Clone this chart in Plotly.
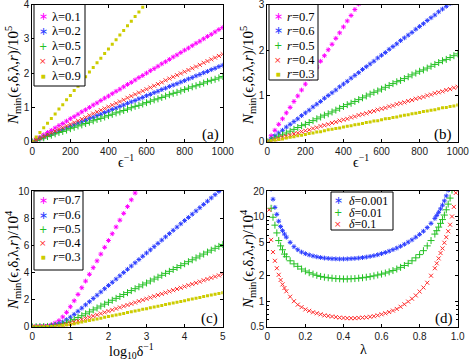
import plotly.graph_objects as go

# ---------------- data ----------------
eps_inv = list(range(0, 1001, 20))          # epsilon^-1, panels (a),(b)
log_delta = [round(0.1 * i, 1) for i in range(51)]   # log10 delta^-1, panel (c)
lam = [0.01, 0.02, 0.03, 0.04, 0.05, 0.06, 0.07, 0.08, 0.09, 0.10,
       0.12, 0.14, 0.16, 0.18, 0.20, 0.22, 0.24, 0.26, 0.28, 0.30,
       0.32, 0.34, 0.36, 0.38, 0.40, 0.42, 0.44, 0.46, 0.48, 0.50,
       0.52, 0.54, 0.56, 0.58, 0.60, 0.62, 0.64, 0.66, 0.68, 0.70,
       0.72, 0.74, 0.76, 0.78, 0.80, 0.82, 0.84, 0.86, 0.88, 0.89,
       0.90, 0.91, 0.92, 0.93, 0.94, 0.95, 0.96, 0.97, 0.98, 0.99]

# panel (a): N_min / 1e5 vs eps^-1 for several lambda
a_lam01 = [0, 0.07, 0.13, 0.20, 0.27, 0.33, 0.40, 0.47, 0.53, 0.60,
           0.67, 0.73, 0.80, 0.87, 0.93, 1.00, 1.07, 1.13, 1.20, 1.27,
           1.33, 1.40, 1.47, 1.53, 1.60, 1.67, 1.73, 1.80, 1.87, 1.93,
           2.00, 2.07, 2.13, 2.20, 2.27, 2.33, 2.40, 2.47, 2.53, 2.60,
           2.67, 2.73, 2.80, 2.87, 2.93, 3.00, 3.07, 3.13, 3.20, 3.27,
           3.33]
a_lam02 = [0, 0.04, 0.09, 0.13, 0.18, 0.22, 0.27, 0.31, 0.36, 0.40,
           0.45, 0.49, 0.54, 0.58, 0.62, 0.67, 0.71, 0.76, 0.80, 0.85,
           0.89, 0.94, 0.98, 1.03, 1.07, 1.12, 1.16, 1.20, 1.25, 1.29,
           1.34, 1.38, 1.43, 1.47, 1.52, 1.56, 1.61, 1.65, 1.69, 1.74,
           1.78, 1.83, 1.87, 1.92, 1.96, 2.01, 2.05, 2.10, 2.14, 2.19,
           2.23]
a_lam05 = [0, 0.04, 0.08, 0.11, 0.15, 0.19, 0.23, 0.27, 0.30, 0.34,
           0.38, 0.42, 0.46, 0.49, 0.53, 0.57, 0.61, 0.65, 0.68, 0.72,
           0.76, 0.80, 0.84, 0.87, 0.91, 0.95, 0.99, 1.03, 1.06, 1.10,
           1.14, 1.18, 1.22, 1.25, 1.29, 1.33, 1.37, 1.41, 1.44, 1.48,
           1.52, 1.56, 1.60, 1.63, 1.67, 1.71, 1.75, 1.79, 1.82, 1.86,
           1.90]
a_lam07 = [0, 0.05, 0.10, 0.15, 0.20, 0.26, 0.31, 0.36, 0.41, 0.46,
           0.51, 0.56, 0.61, 0.66, 0.71, 0.77, 0.82, 0.87, 0.92, 0.97,
           1.02, 1.07, 1.12, 1.17, 1.22, 1.28, 1.33, 1.38, 1.43, 1.48,
           1.53, 1.58, 1.63, 1.68, 1.73, 1.79, 1.84, 1.89, 1.94, 1.99,
           2.04, 2.09, 2.14, 2.19, 2.24, 2.30, 2.35, 2.40, 2.45, 2.50,
           2.55]
a_lam09 = [0, 0.14, 0.27, 0.41, 0.54, 0.68, 0.81, 0.95, 1.08, 1.22,
           1.35, 1.49, 1.62, 1.76, 1.89, 2.03, 2.16, 2.30, 2.43, 2.57,
           2.70, 2.84, 2.97, 3.11, 3.24, 3.38, 3.51, 3.65, 3.78, 3.92,
           4.05]

# panel (b): N_min / 1e5 vs eps^-1 for several r
b_r07 = [0, 0.13, 0.25, 0.38, 0.50, 0.63, 0.75, 0.88, 1.00, 1.13,
         1.26, 1.38, 1.51, 1.63, 1.76, 1.88, 2.01, 2.13, 2.26, 2.38,
         2.51, 2.64, 2.76, 2.89, 3.01]
b_r06 = [0, 0.06, 0.13, 0.19, 0.25, 0.32, 0.38, 0.44, 0.50, 0.57,
         0.63, 0.69, 0.76, 0.82, 0.88, 0.95, 1.01, 1.07, 1.13, 1.20,
         1.26, 1.32, 1.39, 1.45, 1.51, 1.58, 1.64, 1.70, 1.76, 1.83,
         1.89, 1.95, 2.02, 2.08, 2.14, 2.21, 2.27, 2.33, 2.39, 2.46,
         2.52, 2.58, 2.65, 2.71, 2.77, 2.84, 2.90, 2.96, 3.02]
b_r05 = [0, 0.04, 0.08, 0.12, 0.15, 0.19, 0.23, 0.27, 0.31, 0.35,
         0.38, 0.42, 0.46, 0.50, 0.54, 0.58, 0.61, 0.65, 0.69, 0.73,
         0.77, 0.81, 0.84, 0.88, 0.92, 0.96, 1.00, 1.04, 1.08, 1.11,
         1.15, 1.19, 1.23, 1.27, 1.31, 1.34, 1.38, 1.42, 1.46, 1.50,
         1.54, 1.57, 1.61, 1.65, 1.69, 1.73, 1.77, 1.80, 1.84, 1.88,
         1.92]
b_r04 = [0, 0.02, 0.05, 0.07, 0.10, 0.12, 0.14, 0.17, 0.19, 0.22,
         0.24, 0.26, 0.29, 0.31, 0.34, 0.36, 0.38, 0.41, 0.43, 0.46,
         0.48, 0.50, 0.53, 0.55, 0.58, 0.60, 0.62, 0.65, 0.67, 0.70,
         0.72, 0.74, 0.77, 0.79, 0.82, 0.84, 0.86, 0.89, 0.91, 0.94,
         0.96, 0.98, 1.01, 1.03, 1.06, 1.08, 1.10, 1.13, 1.15, 1.18,
         1.20]
b_r03 = [0, 0.02, 0.03, 0.05, 0.06, 0.08, 0.10, 0.11, 0.13, 0.14,
         0.16, 0.18, 0.19, 0.21, 0.22, 0.24, 0.26, 0.27, 0.29, 0.30,
         0.32, 0.34, 0.35, 0.37, 0.38, 0.40, 0.42, 0.43, 0.45, 0.46,
         0.48, 0.50, 0.51, 0.53, 0.54, 0.56, 0.58, 0.59, 0.61, 0.62,
         0.64, 0.66, 0.67, 0.69, 0.70, 0.72, 0.74, 0.75, 0.77, 0.78,
         0.80]

# panel (c): N_min / 1e4 vs log10 delta^-1 for several r
c_r07 = [0.01, 0.01, 0.02, 0.04, 0.08, 0.15, 0.27, 0.45, 0.72, 1.06,
         1.47, 1.91, 2.38, 2.87, 3.36, 3.86, 4.35, 4.85, 5.35, 5.85,
         6.35, 6.85, 7.35, 7.85, 8.35, 8.85, 9.35, 9.85, 10.35]
c_r06 = [0.00, 0.00, 0.01, 0.02, 0.04, 0.07, 0.13, 0.22, 0.34, 0.51,
         0.70, 0.91, 1.14, 1.37, 1.61, 1.84, 2.08, 2.32, 2.56, 2.80,
         3.04, 3.27, 3.51, 3.75, 3.99, 4.23, 4.47, 4.71, 4.95, 5.19,
         5.43, 5.66, 5.90, 6.14, 6.38, 6.62, 6.86, 7.10, 7.34, 7.58,
         7.82, 8.05, 8.29, 8.53, 8.77, 9.01, 9.25, 9.49, 9.73, 9.97,
         10.21]
c_r05 = [0.00, 0.00, 0.01, 0.01, 0.02, 0.04, 0.08, 0.13, 0.20, 0.30,
         0.42, 0.54, 0.68, 0.81, 0.95, 1.09, 1.24, 1.38, 1.52, 1.66,
         1.80, 1.95, 2.09, 2.23, 2.37, 2.51, 2.66, 2.80, 2.94, 3.08,
         3.22, 3.37, 3.51, 3.65, 3.79, 3.93, 4.08, 4.22, 4.36, 4.50,
         4.64, 4.79, 4.93, 5.07, 5.21, 5.35, 5.50, 5.64, 5.78, 5.92,
         6.06]
c_r04 = [0.00, 0.00, 0.00, 0.01, 0.01, 0.03, 0.05, 0.08, 0.13, 0.19,
         0.27, 0.35, 0.43, 0.52, 0.61, 0.70, 0.79, 0.88, 0.97, 1.06,
         1.15, 1.24, 1.33, 1.42, 1.51, 1.60, 1.69, 1.78, 1.88, 1.97,
         2.06, 2.15, 2.24, 2.33, 2.42, 2.51, 2.60, 2.69, 2.78, 2.87,
         2.96, 3.05, 3.14, 3.23, 3.32, 3.42, 3.51, 3.60, 3.69, 3.78,
         3.87]
c_r03 = [0.00, 0.00, 0.00, 0.00, 0.01, 0.02, 0.03, 0.05, 0.08, 0.12,
         0.17, 0.22, 0.28, 0.34, 0.40, 0.45, 0.51, 0.57, 0.63, 0.69,
         0.75, 0.81, 0.86, 0.92, 0.98, 1.04, 1.10, 1.16, 1.22, 1.28,
         1.33, 1.39, 1.45, 1.51, 1.57, 1.63, 1.69, 1.75, 1.81, 1.86,
         1.92, 1.98, 2.04, 2.10, 2.16, 2.22, 2.28, 2.33, 2.39, 2.45,
         2.51]

# panel (d): N_min / 1e4 vs lambda for several delta (log axis)
d_d0001 = [40, 21, 16, 12.8, 10.6, 8.8, 7.6, 6.8, 6.2, 5.7,
           4.95, 4.4, 4.05, 3.8, 3.64, 3.52, 3.42, 3.34, 3.28, 3.23,
           3.2, 3.17, 3.16, 3.15, 3.15, 3.16, 3.18, 3.2, 3.23, 3.27,
           3.32, 3.38, 3.45, 3.54, 3.64, 3.76, 3.9, 4.06, 4.24, 4.45,
           4.7, 4.98, 5.3, 5.7, 6.15, 6.7, 7.4, 8.3, 9.5, 10.3,
           11.2, 12.3, 13.6, 15.3, 17.5, 20.5, 25, 32, 48, 95]
d_d001 = [22, 12.5, 9.8, 7.9, 6.4, 5.2, 4.5, 4.05, 3.6, 3.35,
          3.0, 2.76, 2.58, 2.4, 2.27, 2.17, 2.09, 2.02, 1.96, 1.92,
          1.89, 1.87, 1.85, 1.84, 1.83, 1.83, 1.84, 1.85, 1.87, 1.89,
          1.92, 1.95, 1.99, 2.04, 2.09, 2.15, 2.22, 2.3, 2.4, 2.51,
          2.64, 2.8, 3.0, 3.25, 3.55, 3.95, 4.5, 5.2, 6.2, 6.8,
          7.5, 8.3, 9.2, 10.4, 12.0, 14.0, 16.5, 20.5, 28, 50]
d_d01 = [12, 5.3, 3.8, 3.0, 2.45, 2.05, 1.78, 1.58, 1.43, 1.31,
         1.13, 1.0, 0.91, 0.85, 0.8, 0.77, 0.74, 0.72, 0.7, 0.68,
         0.67, 0.66, 0.65, 0.64, 0.635, 0.63, 0.63, 0.63, 0.635, 0.64,
         0.645, 0.655, 0.665, 0.68, 0.7, 0.72, 0.745, 0.775, 0.81, 0.86,
         0.92, 0.99, 1.07, 1.17, 1.3, 1.45, 1.65, 2.0, 2.45, 2.8,
         3.2, 3.7, 4.2, 4.9, 5.7, 6.7, 8.0, 10, 13, 19]

# ---------------- styling ----------------
W, H = 471, 361
SERIF = "Liberation Serif"
SANS = "Liberation Sans"
MAGENTA, BLUE, GREEN, RED, YELLOW = "#ff00ff", "#2a3cff", "#22c022", "#ff2a2a", "#cccc00"


def fx(p):
    return p / W


def fy(p):
    return 1 - p / H


MARK = {
    "m": dict(symbol="asterisk-open", size=4, color=MAGENTA, line=dict(color=MAGENTA, width=1)),
    "b": dict(symbol="asterisk-open", size=4, color=BLUE, line=dict(color=BLUE, width=1)),
    "g": dict(symbol="cross-thin-open", size=5, color=GREEN, line=dict(color=GREEN, width=1)),
    "r": dict(symbol="x-thin-open", size=4, color=RED, line=dict(color=RED, width=1)),
    "y": dict(symbol="square", size=3, color=YELLOW, line=dict(width=0)),
}
GLYPH = {"m": ("∗", MAGENTA, 11), "b": ("∗", BLUE, 11), "g": ("+", GREEN, 10),
         "r": ("×", RED, 9), "y": ("■", YELLOW, 5)}

fig = go.Figure()


def add(x, y, key, ax):
    fig.add_trace(go.Scatter(x=x[:len(y)], y=y, mode="markers", marker=MARK[key],
                             xaxis="x" + ax, yaxis="y" + ax, showlegend=False,
                             hoverinfo="skip"))


for y, k in [(a_lam01, "m"), (a_lam02, "b"), (a_lam05, "g"), (a_lam07, "r"), (a_lam09, "y")]:
    add(eps_inv, y, k, "")
for y, k in [(b_r07, "m"), (b_r06, "b"), (b_r05, "g"), (b_r04, "r"), (b_r03, "y")]:
    add(eps_inv, y, k, "2")
for y, k in [(c_r07, "m"), (c_r06, "b"), (c_r05, "g"), (c_r04, "r"), (c_r03, "y")]:
    add(log_delta, y, k, "3")
for y, k in [(d_d0001, "b"), (d_d001, "g"), (d_d01, "r")]:
    add(lam, y, k, "4")

tickfont = dict(family=SANS, size=10, color="#1a1a1a")
base = dict(showline=True, linecolor="black", linewidth=1, mirror="ticks",
            ticks="inside", ticklen=3, tickcolor="black", showgrid=False,
            zeroline=False, tickfont=tickfont, fixedrange=True, automargin=False,
            ticklabeloverflow="allow")

left = [fx(32.3), fx(222.7)]
right = [fx(267.3), fx(457.7)]
top = [fy(141.7), fy(4.5)]
bottom = [fy(326.7), fy(191)]

fig.update_layout(
    width=W, height=H, margin=dict(l=0, r=0, t=0, b=0),
    paper_bgcolor="white", plot_bgcolor="white",
    xaxis=dict(base, domain=left, anchor="y", range=[0, 1000], tickvals=[0, 200, 400, 600, 800, 1000]),
    yaxis=dict(base, domain=top, anchor="x", range=[0, 4], tickvals=[0, 1, 2, 3, 4]),
    xaxis2=dict(base, domain=right, anchor="y2", range=[0, 1000], tickvals=[0, 200, 400, 600, 800, 1000]),
    yaxis2=dict(base, domain=top, anchor="x2", range=[0, 3], tickvals=[0, 1, 2, 3]),
    xaxis3=dict(base, domain=left, anchor="y3", range=[0, 5], tickvals=[0, 1, 2, 3, 4, 5]),
    yaxis3=dict(base, domain=bottom, anchor="x3", range=[0, 10], tickvals=[0, 2, 4, 6, 8, 10]),
    xaxis4=dict(base, domain=right, anchor="y4", range=[0, 1],
                tickvals=[0, 0.2, 0.4, 0.6, 0.8, 1.0],
                ticktext=["0", "0.2", "0.4", "0.6", "0.8", "1.0"]),
    yaxis4=dict(base, domain=bottom, anchor="x4", type="log", range=[-0.30103, 1.30103],
                tickvals=[0.5, 1, 2, 5, 10, 20], ticktext=["0.5", "1", "2", "5", "10", "20"],
                minor=dict(ticks="inside", ticklen=2, tickcolor="black",
                           tickvals=[0.6, 0.7, 0.8, 0.9, 3, 4, 6, 7, 8, 9])),
)


def text(x, y, s, size=14, angle=0, anchor="center", font=SERIF, color="black"):
    fig.add_annotation(x=fx(x), y=fy(y), xref="paper", yref="paper", text=s, showarrow=False,
                       textangle=angle, xanchor=anchor, yanchor="middle", borderpad=0,
                       font=dict(family=font, size=size, color=color))


ylab5 = "<i>N</i><sub>min</sub>(ϵ,δ,λ,<i>r</i>)/10<sup>5</sup>"
ylab4 = "<i>N</i><sub>min</sub>(ϵ,δ,λ,<i>r</i>)/10<sup>4</sup>"
text(13, 76, ylab5, 15, -90)
text(248, 76, ylab5, 15, -90)
text(13, 260, ylab4, 15, -90)
text(248, 259, ylab4, 15, -90)
text(126, 161, "ϵ<sup>−1</sup>", 14)
text(361, 161, "ϵ<sup>−1</sup>", 14)
text(131, 351, "log<sub>10</sub>δ<sup>−1</sup>", 14)
text(363, 349, "λ", 14)
text(210, 134, "(a)", 15)
text(443, 134, "(b)", 15)
text(209, 318, "(c)", 15)
text(444, 318, "(d)", 15)


def legend(box, rows, sym_x, txt_x, entries, size=12.5):
    x0, y0, x1, y1 = box
    fig.add_shape(type="rect", xref="paper", yref="paper", x0=fx(x0), y0=fy(y1),
                  x1=fx(x1), y1=fy(y0), line=dict(color="black", width=1),
                  fillcolor="white", layer="above")
    for yy, (k, label) in zip(rows, entries):
        g, c, s = GLYPH[k]
        text(sym_x, yy, g, s, font="DejaVu Sans", color=c)
        text(txt_x, yy, label, size, anchor="left")


legend((34, 4.5, 85, 86), [16.5, 31.5, 46, 61, 75.5], 43, 51,
       [("m", "λ=0.1"), ("b", "λ=0.2"), ("g", "λ=0.5"), ("r", "λ=0.7"), ("y", "λ=0.9")])
legend((269, 4.5, 318, 80), [16.5, 31, 45.5, 60, 74], 278, 286,
       [("m", "<i>r</i>=0.7"), ("b", "<i>r</i>=0.6"), ("g", "<i>r</i>=0.5"),
        ("r", "<i>r</i>=0.4"), ("y", "<i>r</i>=0.3")])
legend((34, 191, 83, 270), [200, 215, 229, 243, 257], 43, 52,
       [("m", "<i>r</i>=0.7"), ("b", "<i>r</i>=0.6"), ("g", "<i>r</i>=0.5"),
        ("r", "<i>r</i>=0.4"), ("y", "<i>r</i>=0.3")])
legend((331, 192, 393, 230), [200.5, 212.5, 224.5], 338, 348,
       [("b", "<i>δ</i>=0.001"), ("g", "<i>δ</i>=0.01"), ("r", "<i>δ</i>=0.1")], 12)

fig.write_html("out.html", config={"displayModeBar": False},
               post_script="document.body.style.margin='0px';")
